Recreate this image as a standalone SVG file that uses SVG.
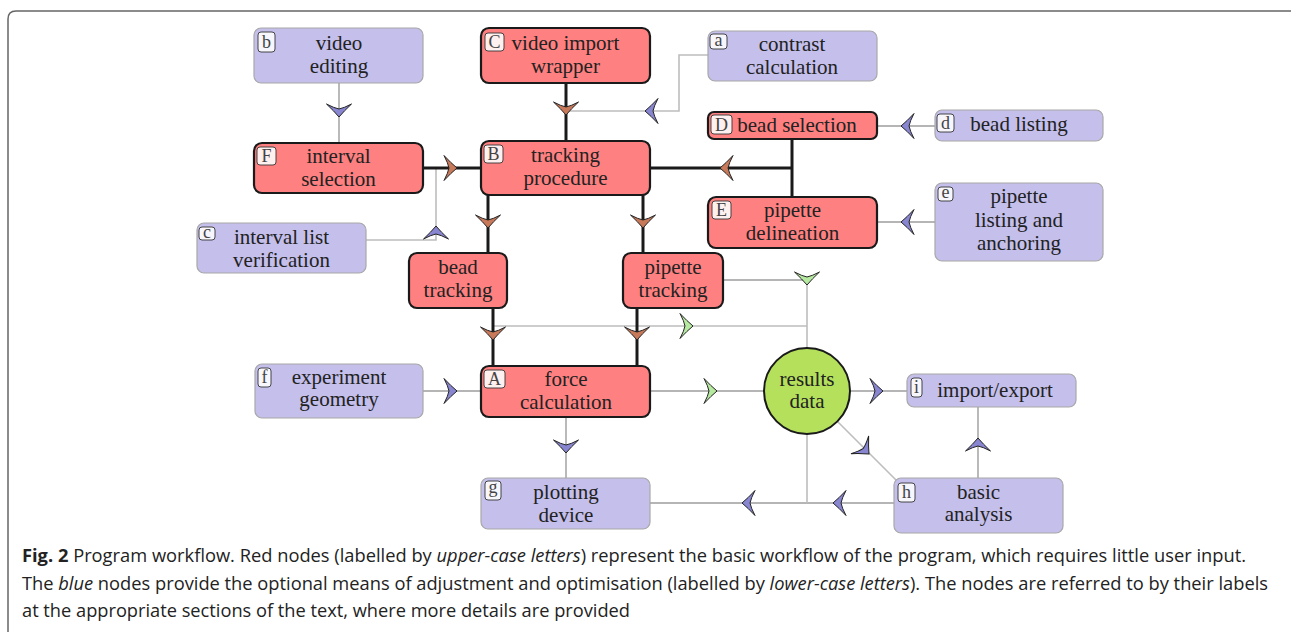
<svg xmlns="http://www.w3.org/2000/svg" width="1291" height="632" viewBox="0 0 1291 632">
<style>
  .red rect.box { fill:#ff8080; stroke:#1a1a1a; stroke-width:2.2; }
  .blue rect.box { fill:#c4bfeb; stroke:#a8a8a8; stroke-width:1.2; }
  .t { font-family:"Liberation Serif","DejaVu Serif",serif; font-size:21px; fill:#222; text-anchor:middle; }
  .bl { font-family:"Liberation Serif","DejaVu Serif",serif; font-size:18px; fill:#444; text-anchor:middle; }
  .red rect.badge { fill:#fff0f0; stroke:#333; stroke-width:0.9; }
  .blue rect.badge { fill:#f6f6fc; stroke:#333; stroke-width:0.9; }
  .thick { fill:none; stroke:#1a1a1a; stroke-width:3; }
  .thin { fill:none; stroke:#9c9c9c; stroke-width:1.4; }
  .light { fill:none; stroke:#bdbdbd; stroke-width:1.6; }
  .cap { font-family:"Open Sans","Noto Sans","Liberation Sans",sans-serif; font-size:17.5px; fill:#222; }
</style>
<defs>
  <path id="ah" d="M0,0 Q-6,-5 -13,-12.5 Q-9,-5 -8,0 Q-9,5 -13,12.5 Q-6,5 0,0 Z" stroke="#222" stroke-width="1"/>
  <use id="ar" href="#ah" fill="#c8795a"/>
  <use id="ab" href="#ah" fill="#8886d0"/>
  <use id="ag" href="#ah" fill="#b6eaa0"/>
</defs>
<path d="M8,632 V19 Q8,11 16,11 H1291" fill="none" stroke="#666" stroke-width="1.5"/>

<g id="connectors">
  <path class="thin" d="M339,83 V143"/>
  <path class="light" d="M708,55 H679 V111 H566"/>
  <path class="light" d="M366,240 H436 V168"/>
  <path class="thin" d="M877,126 H935"/>
  <path class="thin" d="M877,222 H935"/>
  <path class="light" d="M493,326 H807"/>
  <path class="thin" d="M723,280 H807"/>
  <path class="light" d="M807,280 V348"/>
  <path class="thin" d="M650,391 H764"/>
  <path class="thin" d="M423,391 H481"/>
  <path class="thin" d="M566,417 V478"/>
  <path class="thin" d="M850,391 H907"/>
  <path class="thin" d="M978,478 V407"/>
  <path class="light" d="M838,422 L897,481"/>
  <path class="thin" d="M894,503 H650"/>
  <path class="light" d="M807,434 V503"/>
  <path class="thick" d="M566,83 V141"/>
  <path class="thick" d="M423,168 H481"/>
  <path class="thick" d="M650,168 H792 M792,139 V197"/>
  <path class="thick" d="M488,195 V253"/>
  <path class="thick" d="M643,195 V253"/>
  <path class="thick" d="M493,308 V366"/>
  <path class="thick" d="M637,308 V366"/>
  <use href="#ab" transform="translate(339,117) rotate(90)"/>
  <use href="#ar" transform="translate(566,115) rotate(90)"/>
  <use href="#ab" transform="translate(645,111) rotate(180)"/>
  <use href="#ar" transform="translate(457,168)"/>
  <use href="#ab" transform="translate(436,226) rotate(-90)"/>
  <use href="#ar" transform="translate(720,168) rotate(180)"/>
  <use href="#ar" transform="translate(488,228) rotate(90)"/>
  <use href="#ar" transform="translate(643,228) rotate(90)"/>
  <use href="#ab" transform="translate(901,126) rotate(180)"/>
  <use href="#ab" transform="translate(901,222) rotate(180)"/>
  <use href="#ar" transform="translate(493,340) rotate(90)"/>
  <use href="#ar" transform="translate(637,340) rotate(90)"/>
  <use href="#ag" transform="translate(693,326)"/>
  <use href="#ag" transform="translate(807,285) rotate(90)"/>
  <use href="#ag" transform="translate(717,391)"/>
  <use href="#ab" transform="translate(457,391)"/>
  <use href="#ab" transform="translate(566,453) rotate(90)"/>
  <use href="#ab" transform="translate(883,391)"/>
  <use href="#ab" transform="translate(978,438) rotate(-90)"/>
  <use href="#ab" transform="translate(869,454) rotate(45)"/>
  <use href="#ab" transform="translate(833,503) rotate(180)"/>
  <use href="#ab" transform="translate(742,503) rotate(180)"/>
</g>

<g id="node-b" class="blue">
  <rect class="box" x="254" y="28" width="169" height="55" rx="7"/>
  <rect class="badge" x="258" y="32" width="17" height="20" rx="3"/>
  <text class="bl" x="266.5" y="47.5">b</text>
  <text class="t" x="339" y="49.5">video</text>
  <text class="t" x="339" y="73">editing</text>
</g>
<g id="node-C" class="red">
  <rect class="box" x="481" y="28" width="169" height="55" rx="8"/>
  <rect class="badge" x="485" y="33" width="19" height="18" rx="3"/>
  <text class="bl" x="494.5" y="48">C</text>
  <text class="t" x="565.5" y="49.5">video import</text>
  <text class="t" x="565.5" y="73">wrapper</text>
</g>
<g id="node-a" class="blue">
  <rect class="box" x="708" y="31" width="169" height="50" rx="7"/>
  <rect class="badge" x="710" y="34" width="17" height="15" rx="3"/>
  <text class="bl" x="718.5" y="45.5">a</text>
  <text class="t" x="792" y="50.5">contrast</text>
  <text class="t" x="792" y="73.5">calculation</text>
</g>
<g id="node-D" class="red">
  <rect class="box" x="708" y="112" width="169" height="27" rx="6"/>
  <rect class="badge" x="711" y="115" width="21" height="19" rx="3"/>
  <text class="bl" x="721.5" y="131">D</text>
  <text class="t" x="797" y="131.5">bead selection</text>
</g>
<g id="node-d" class="blue">
  <rect class="box" x="935" y="110" width="168" height="31" rx="7"/>
  <rect class="badge" x="937" y="114" width="17" height="18" rx="3"/>
  <text class="bl" x="945.5" y="129">d</text>
  <text class="t" x="1019" y="131">bead listing</text>
</g>
<g id="node-E" class="red">
  <rect class="box" x="708" y="197" width="169" height="51" rx="8"/>
  <rect class="badge" x="712" y="201" width="19" height="18" rx="3"/>
  <text class="bl" x="721.5" y="216">E</text>
  <text class="t" x="792.5" y="216.5">pipette</text>
  <text class="t" x="792.5" y="240">delineation</text>
</g>
<g id="node-e" class="blue">
  <rect class="box" x="935" y="183" width="168" height="78" rx="7"/>
  <rect class="badge" x="938" y="187" width="15" height="14" rx="3"/>
  <text class="bl" x="945.5" y="198">e</text>
  <text class="t" x="1019" y="203">pipette</text>
  <text class="t" x="1019" y="227">listing and</text>
  <text class="t" x="1019" y="250">anchoring</text>
</g>
<g id="node-F" class="red">
  <rect class="box" x="254" y="143" width="169" height="50" rx="8"/>
  <rect class="badge" x="257" y="147" width="19" height="18" rx="3"/>
  <text class="bl" x="266.5" y="162">F</text>
  <text class="t" x="338.5" y="162.5">interval</text>
  <text class="t" x="338.5" y="185.5">selection</text>
</g>
<g id="node-B" class="red">
  <rect class="box" x="481" y="141" width="169" height="54" rx="8"/>
  <rect class="badge" x="484" y="145" width="19" height="18" rx="3"/>
  <text class="bl" x="493.5" y="160">B</text>
  <text class="t" x="565.5" y="162">tracking</text>
  <text class="t" x="565.5" y="185">procedure</text>
</g>
<g id="node-c" class="blue">
  <rect class="box" x="197" y="223" width="169" height="50" rx="7"/>
  <rect class="badge" x="199" y="227" width="16" height="13" rx="3"/>
  <text class="bl" x="207" y="237.5">c</text>
  <text class="t" x="281.5" y="243.5">interval list</text>
  <text class="t" x="281.5" y="266.5">verification</text>
</g>
<g id="node-bead-tracking" class="red">
  <rect class="box" x="409" y="253" width="98" height="55" rx="8"/>
  <text class="t" x="458" y="273.5">bead</text>
  <text class="t" x="458" y="296.5">tracking</text>
</g>
<g id="node-pipette-tracking" class="red">
  <rect class="box" x="623" y="253" width="100" height="55" rx="8"/>
  <text class="t" x="673" y="273.5">pipette</text>
  <text class="t" x="673" y="296.5">tracking</text>
</g>
<g id="node-f" class="blue">
  <rect class="box" x="255" y="364" width="168" height="54" rx="7"/>
  <rect class="badge" x="258" y="368" width="13" height="19" rx="3"/>
  <text class="bl" x="264.5" y="383">f</text>
  <text class="t" x="339" y="383.5">experiment</text>
  <text class="t" x="339" y="406">geometry</text>
</g>
<g id="node-A" class="red">
  <rect class="box" x="481" y="366" width="169" height="51" rx="8"/>
  <rect class="badge" x="484" y="370" width="21" height="18" rx="3"/>
  <text class="bl" x="494.5" y="385">A</text>
  <text class="t" x="566" y="386">force</text>
  <text class="t" x="566" y="408.5">calculation</text>
</g>
<g id="node-g" class="blue">
  <rect class="box" x="481" y="478" width="169" height="51" rx="7"/>
  <rect class="badge" x="485" y="481" width="16" height="19" rx="3"/>
  <text class="bl" x="493" y="493">g</text>
  <text class="t" x="566" y="498.5">plotting</text>
  <text class="t" x="566" y="521.5">device</text>
</g>
<g id="node-results">
  <circle cx="807" cy="391" r="43" fill="#b4e05c" stroke="#1a1a1a" stroke-width="2"/>
  <text class="t" x="807" y="386">results</text>
  <text class="t" x="807" y="408">data</text>
</g>
<g id="node-i" class="blue">
  <rect class="box" x="907" y="374" width="169" height="33" rx="7"/>
  <rect class="badge" x="911" y="378" width="11" height="19" rx="3"/>
  <text class="bl" x="916.5" y="393">i</text>
  <text class="t" x="995" y="396.5">import/export</text>
</g>
<g id="node-h" class="blue">
  <rect class="box" x="894" y="478" width="169" height="55" rx="7"/>
  <rect class="badge" x="898" y="483" width="17" height="19" rx="3"/>
  <text class="bl" x="906.5" y="498">h</text>
  <text class="t" x="978.5" y="498.5">basic</text>
  <text class="t" x="978.5" y="521">analysis</text>
</g>

<g id="caption">
  <text class="cap" x="22" y="562" textLength="1224" lengthAdjust="spacingAndGlyphs"><tspan font-weight="bold">Fig. 2</tspan> Program workflow. Red nodes (labelled by <tspan font-style="italic">upper-case letters</tspan>) represent the basic workflow of the program, which requires little user input.</text>
  <text class="cap" x="22" y="590" textLength="1246" lengthAdjust="spacingAndGlyphs">The <tspan font-style="italic">blue</tspan> nodes provide the optional means of adjustment and optimisation (labelled by <tspan font-style="italic">lower-case letters</tspan>). The nodes are referred to by their labels</text>
  <text class="cap" x="22" y="617" textLength="608" lengthAdjust="spacingAndGlyphs">at the appropriate sections of the text, where more details are provided</text>
</g>
</svg>
